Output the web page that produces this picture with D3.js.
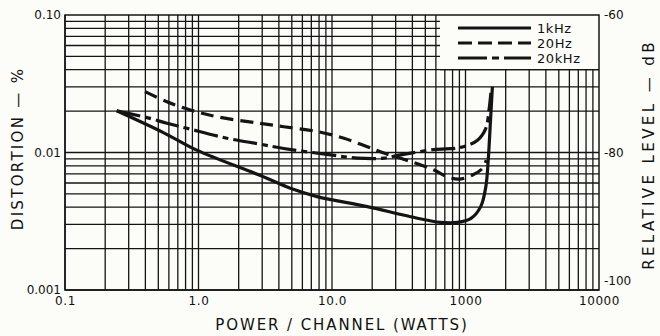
<!DOCTYPE html>
<html>
<head>
<meta charset="utf-8">
<script src="https://cdn.jsdelivr.net/npm/d3@7"></script>
<style>
  html, body { margin: 0; padding: 0; background: #fcfcf8; }
  svg { display: block; }
  text { font-family: "DejaVu Sans", sans-serif; fill: #111; }
</style>
</head>
<body>
<svg id="chart" width="660" height="336"></svg>
<script>
// Harmonic distortion vs. output power, three test frequencies
const xTicks = [0.1, 1, 10, 100, 1000];
const xTickLabels = ["0.1", "1.0", "10.0", "1000", "10000"];
const yTicks = [0.1, 0.01, 0.001];
const yTickLabels = ["0.10", "0.01", "0.001"];
const dbTicks = [-60, -80, -100];
const dbTickLabels = ["-60", "-80", "-100"];

const seriesNames = ["1kHz", "20Hz", "20kHz"];

// watts / distortion %
const power1k = [0.244, 0.55, 0.97, 2.91, 4.88, 7.74, 18.4, 38.8, 65, 87, 110, 130, 142, 148, 153, 159];
const dist1k  = [0.0201, 0.0139, 0.0104, 0.0068, 0.0055, 0.00478, 0.00404, 0.00341, 0.0031, 0.0031, 0.00332, 0.00404, 0.00564, 0.0088, 0.0154, 0.0301];

const power20 = [0.398, 0.58, 0.867, 1.37, 2.9, 4.35, 7.74, 12.3, 18.4, 24.5, 38.8, 58, 73, 89.5, 113, 134, 143];
const dist20  = [0.0277, 0.0234, 0.0204, 0.0182, 0.0163, 0.0154, 0.0142, 0.0127, 0.011, 0.0099, 0.0086, 0.00746, 0.00667, 0.0064, 0.00686, 0.00767, 0.0088];

const power20k = [0.244, 0.434, 0.58, 0.818, 1.63, 2.9, 4.35, 9.75, 15.5, 24.5, 32.6, 58, 92, 123, 142, 150, 155];
const dist20k  = [0.0201, 0.0177, 0.0163, 0.015, 0.0127, 0.0115, 0.0107, 0.0096, 0.0091, 0.0091, 0.0096, 0.0105, 0.0109, 0.0123, 0.015, 0.0204, 0.0271];

const svg = d3.select("#chart");
const padL = 65, padR = 599, padT = 15, padB = 290;

const x = d3.scaleLog().domain([0.1, 1000]).range([padL, padR]);
const y = d3.scaleLog().domain([0.001, 0.1]).range([padB, padT]);
const yDb = d3.scaleLinear().domain([-100, -60]).range([padB, padT]);

const ink = "#141414";

// graph-paper grid: 1..9 in every decade
const gridX = [], gridY = [];
for (let e = -1; e < 3; e++) for (let k = 1; k <= 9; k++) gridX.push(k * Math.pow(10, e));
for (let e = -3; e < -1; e++) for (let k = 1; k <= 9; k++) gridY.push(k * Math.pow(10, e));

const grid = svg.append("g").attr("stroke", ink).attr("stroke-width", 1.3);
grid.selectAll("line.gx").data(gridX).join("line")
  .attr("x1", d => x(d)).attr("x2", d => x(d))
  .attr("y1", padT).attr("y2", padB);
grid.selectAll("line.gy").data(gridY).join("line")
  .attr("x1", padL).attr("x2", padR)
  .attr("y1", d => y(d)).attr("y2", d => y(d));

// legend panel sits over the top-right corner of the grid
const legX0 = 440, legY1 = y(0.04);
svg.append("rect")
  .attr("x", legX0).attr("y", padT)
  .attr("width", padR - legX0).attr("height", legY1 - padT)
  .attr("fill", "#fcfcf8");

// frame
svg.append("rect")
  .attr("x", padL).attr("y", padT)
  .attr("width", padR - padL).attr("height", padB - padT)
  .attr("fill", "none").attr("stroke", ink).attr("stroke-width", 1.5);
svg.append("line").attr("x1", legX0).attr("x2", padR)
  .attr("y1", legY1).attr("y2", legY1)
  .attr("stroke", ink).attr("stroke-width", 1.3);

// axes (labels only; the grid carries the ticks)
const xAxis = d3.axisBottom(x).tickValues(xTicks)
  .tickFormat((d, i) => xTickLabels[i]).tickSize(0).tickPadding(6);
svg.append("g").attr("transform", `translate(0,${padB})`).call(xAxis)
  .call(g => g.select(".domain").remove())
  .selectAll("text").attr("font-size", 12).attr("font-family", "DejaVu Sans")
  .attr("letter-spacing", 0.6).attr("fill", ink);

const yAxis = d3.axisLeft(y).tickValues(yTicks)
  .tickFormat((d, i) => yTickLabels[i]).tickSize(0).tickPadding(4);
svg.append("g").attr("transform", `translate(${padL},0)`).call(yAxis)
  .call(g => g.select(".domain").remove())
  .selectAll("text").attr("font-size", 12).attr("font-family", "DejaVu Sans").attr("fill", ink);

const dbAxis = d3.axisRight(yDb).tickValues(dbTicks)
  .tickFormat((d, i) => dbTickLabels[i]).tickSize(0).tickPadding(5);
svg.append("g").attr("transform", `translate(${padR},0)`).call(dbAxis)
  .call(g => g.select(".domain").remove())
  .selectAll("text").attr("font-size", 12).attr("font-family", "DejaVu Sans").attr("fill", ink)
  .attr("y", d => d === -100 ? -9 : 0);

// axis titles
svg.append("text").attr("x", 342).attr("y", 330)
  .attr("text-anchor", "middle").attr("font-size", 15).attr("letter-spacing", 1.9)
  .text("POWER / CHANNEL (WATTS)");
svg.append("text")
  .attr("transform", `translate(23,${(padT + padB) / 2 - 4}) rotate(-90)`)
  .attr("text-anchor", "middle").attr("font-size", 15).attr("letter-spacing", 2.3)
  .text("DISTORTION — %");
svg.append("text")
  .attr("transform", `translate(654,${(padT + padB) / 2 + 2}) rotate(-90)`)
  .attr("text-anchor", "middle").attr("font-size", 15).attr("letter-spacing", 3.4)
  .text("RELATIVE LEVEL — dB");

// curves
const line = d3.line()
  .x(d => x(d[0])).y(d => y(d[1]))
  .curve(d3.curveCatmullRom.alpha(0.5));

const series = [
  { name: seriesNames[0], pw: power1k, dist: dist1k, dash: null },
  { name: seriesNames[1], pw: power20, dist: dist20, dash: "13,7" },
  { name: seriesNames[2], pw: power20k, dist: dist20k, dash: "24,5,6,5" }
];

svg.append("g").selectAll("path").data(series).join("path")
  .attr("d", s => line(d3.zip(s.pw, s.dist)))
  .attr("fill", "none").attr("stroke", ink).attr("stroke-width", 3.2)
  .attr("stroke-linecap", "butt").attr("stroke-linejoin", "round")
  .attr("stroke-dasharray", s => s.dash);

// legend
const leg = svg.append("g");
const legRows = [28, 43, 58];
series.forEach((s, i) => {
  leg.append("line")
    .attr("x1", 458).attr("x2", 531)
    .attr("y1", legRows[i]).attr("y2", legRows[i])
    .attr("stroke", ink).attr("stroke-width", 3)
    .attr("stroke-dasharray", s.dash === null ? null : (i === 1 ? "14,6" : "29,5,7,5"));
  leg.append("text")
    .attr("x", 537).attr("y", legRows[i] + 5)
    .attr("font-size", 13).attr("letter-spacing", 0.6)
    .text(s.name);
});
</script>
</body>
</html>
